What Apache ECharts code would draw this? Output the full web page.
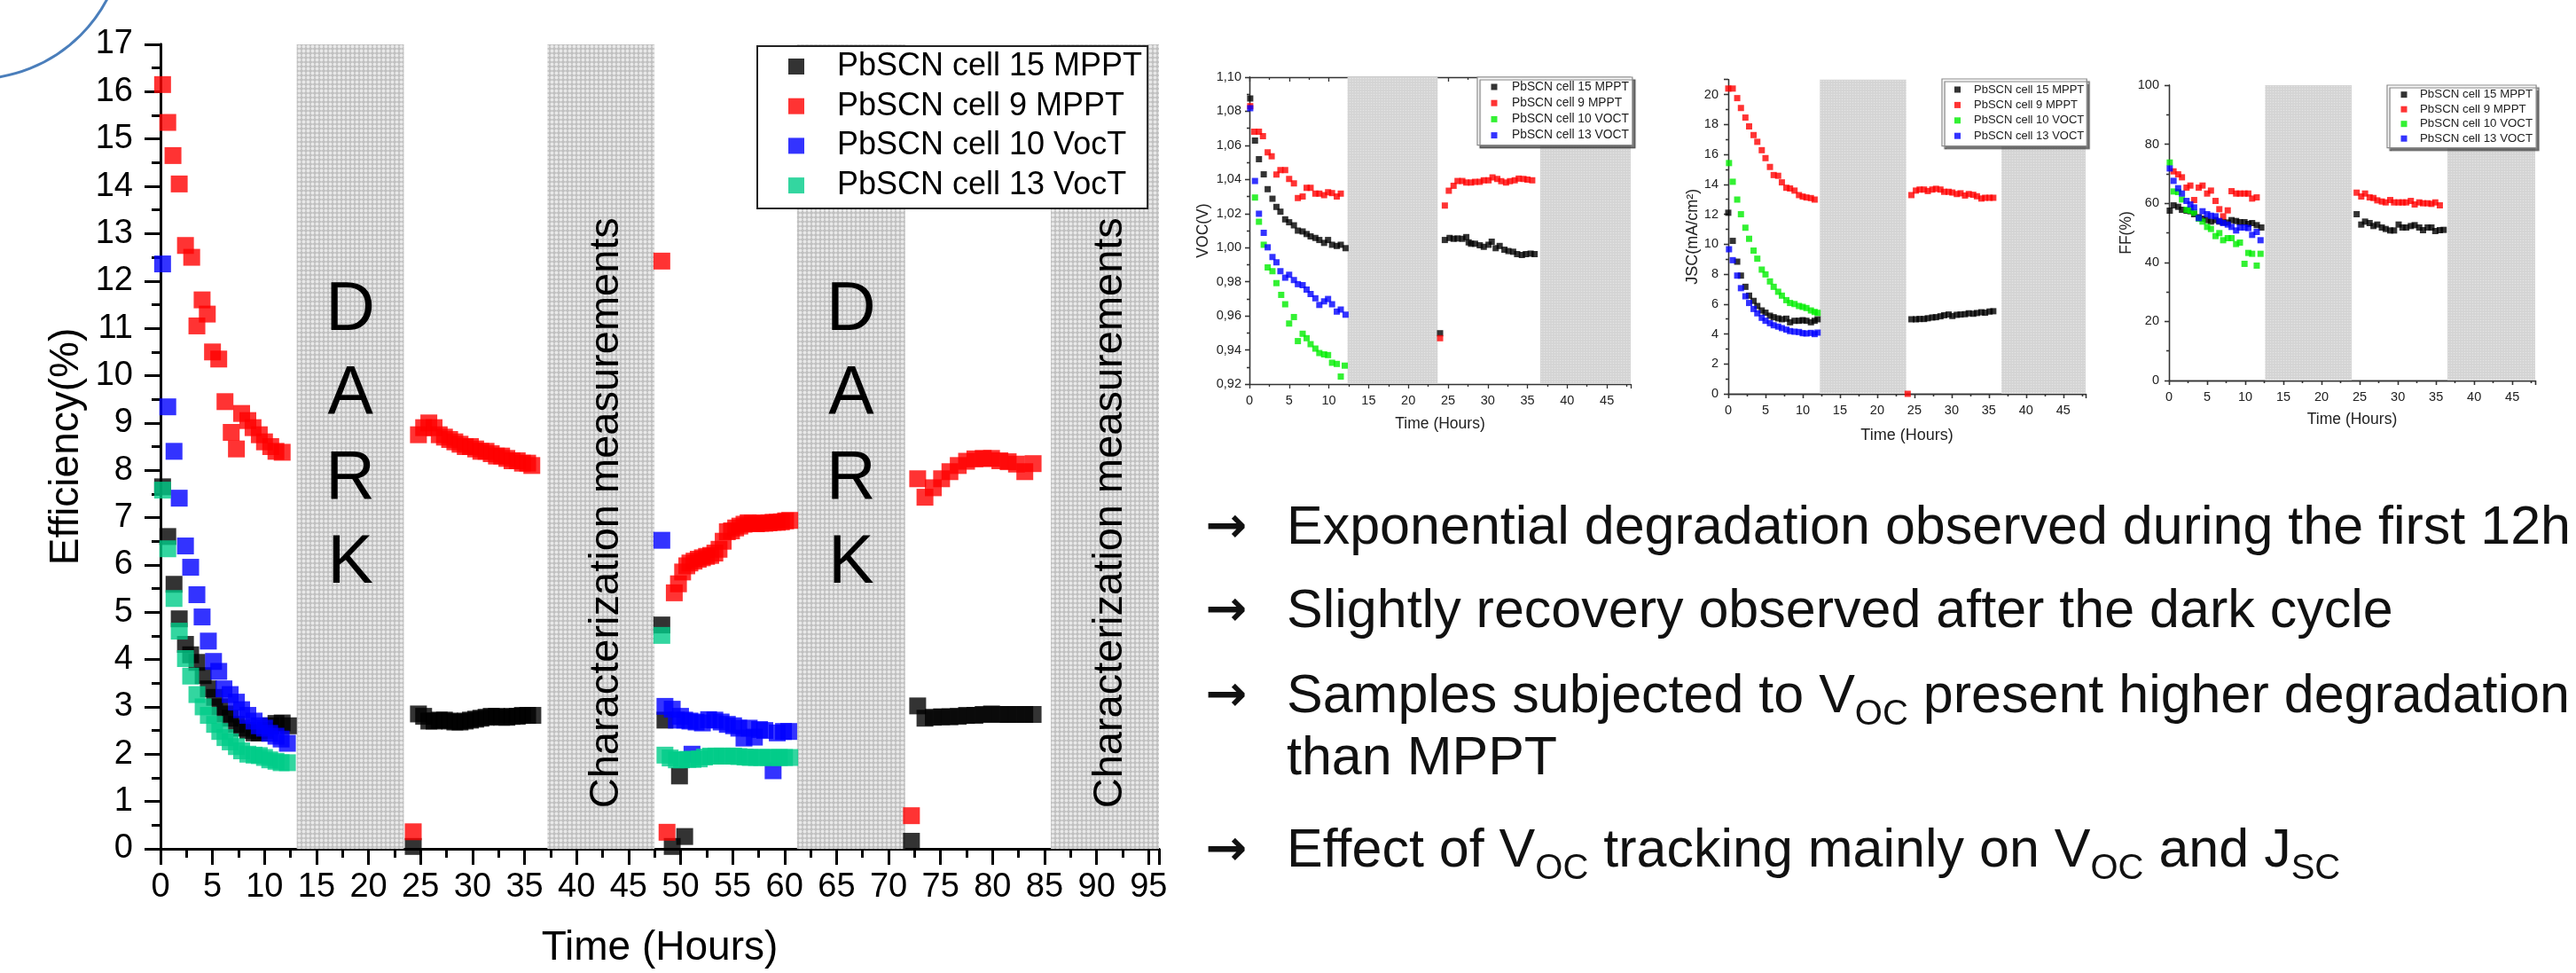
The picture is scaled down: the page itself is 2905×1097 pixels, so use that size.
<!DOCTYPE html>
<html>
<head>
<meta charset="utf-8">
<script src="https://cdn.jsdelivr.net/npm/echarts@6/dist/echarts.min.js"></script>
<style>
html, body { margin: 0; padding: 0; background: #fff; }
#main { width: 2905px; height: 1097px; }
</style>
</head>
<body>
<div id="main"></div>
<script>
// ---- main efficiency chart: [hours, efficiency %] ----
const cell15Eff = [[0.2,7.65],[0.7,6.6],[1.3,5.59],[1.8,4.86],[2.4,4.32],[2.9,4.1],[3.5,3.94],[4.1,3.66],[4.6,3.38],[5.2,3.2],[5.7,3.0],[6.2,2.85],[6.7,2.76],[7.3,2.63],[7.8,2.55],[8.4,2.5],[9.0,2.45],[9.5,2.45],[10.1,2.5],[10.6,2.6],[11.1,2.65],[11.7,2.66],[12.3,2.6],
  [24.3,0.05],[24.8,2.85],[25.3,2.8],[25.8,2.7],[26.3,2.7],[26.8,2.72],[27.3,2.72],[27.8,2.7],[28.3,2.68],[28.8,2.68],[29.3,2.7],[29.8,2.72],[30.3,2.74],[30.8,2.76],[31.3,2.78],[31.8,2.8],[32.3,2.8],[32.8,2.78],[33.3,2.78],[33.8,2.8],[34.3,2.8],[34.8,2.82],[35.3,2.82],[35.8,2.82],
  [48.2,4.73],[48.5,2.72],[49.2,0.05],[49.9,1.54],[50.4,0.26],
  [72.2,0.16],[72.8,3.02],[73.5,2.76],[74.3,2.78],[75.1,2.79],[75.9,2.79],[76.7,2.8],[77.5,2.82],[78.3,2.82],[79.1,2.84],[79.9,2.85],[80.7,2.84],[81.5,2.84],[82.3,2.84],[83.1,2.84],[83.9,2.84]];
const cell9Eff = [[0.2,16.15],[0.7,15.35],[1.2,14.65],[1.8,14.05],[2.4,12.75],[3.0,12.5],[3.5,11.05],[4.0,11.6],[4.5,11.3],[5.0,10.5],[5.6,10.35],[6.2,9.45],[6.8,8.8],[7.3,8.45],[7.8,9.2],[8.4,9.05],[8.9,8.9],[9.5,8.75],[10.0,8.6],[10.6,8.5],[11.1,8.4],[11.7,8.38],
  [24.3,0.36],[24.8,8.75],[25.3,8.9],[25.8,9.0],[26.3,8.9],[26.8,8.75],[27.3,8.7],[27.8,8.65],[28.3,8.6],[28.8,8.55],[29.3,8.5],[29.8,8.5],[30.3,8.45],[30.8,8.4],[31.3,8.4],[31.8,8.35],[32.3,8.3],[32.8,8.3],[33.3,8.25],[33.8,8.2],[34.3,8.2],[34.8,8.15],[35.3,8.15],[35.7,8.1],
  [48.2,12.42],[48.7,0.35],[49.4,5.41],[49.8,5.6],[50.2,5.85],[50.6,5.98],[50.9,6.04],[51.3,6.08],[51.7,6.12],[52.1,6.15],[52.5,6.18],[52.9,6.2],[53.3,6.25],[53.7,6.33],[54.1,6.5],[54.5,6.7],[54.9,6.72],[55.3,6.78],[55.7,6.82],[56.1,6.86],[56.5,6.89],[56.9,6.88],[57.3,6.87],[57.7,6.88],[58.1,6.88],[58.5,6.89],[58.9,6.9],[59.3,6.9],[59.7,6.91],[60.1,6.93],[60.5,6.94],
  [72.2,0.7],[72.8,7.82],[73.5,7.43],[74.3,7.63],[75.1,7.82],[75.9,7.97],[76.7,8.1],[77.5,8.19],[78.3,8.24],[79.1,8.25],[79.9,8.25],[80.7,8.2],[81.5,8.18],[82.3,8.13],[83.1,7.97],[83.9,8.14]];
const cell10Eff = [[0.2,12.36],[0.7,9.34],[1.3,8.4],[1.8,7.41],[2.4,6.4],[2.9,5.95],[3.5,5.37],[4.0,4.9],[4.6,4.39],[5.1,3.96],[5.6,3.75],[6.1,3.38],[6.7,3.26],[7.3,3.1],[7.8,2.94],[8.4,2.82],[9.0,2.7],[9.5,2.6],[10.0,2.55],[10.5,2.44],[11.1,2.38],[11.6,2.32],[12.2,2.23],
  [48.2,6.52],[48.5,3.01],[49.2,2.95],[49.6,2.72],[50.0,2.8],[50.4,2.72],[50.9,2.7],[51.1,2.0],[51.5,2.68],[52.1,2.66],[52.7,2.73],[53.3,2.72],[53.9,2.68],[54.5,2.63],[55.1,2.6],[55.6,2.55],[56.1,2.34],[56.6,2.55],[57.1,2.36],[57.6,2.52],[58.1,2.5],[58.9,1.65],[59.3,2.45],[59.9,2.48],[60.4,2.48]];
const cell13Eff = [[0.2,7.58],[0.7,6.34],[1.3,5.29],[1.8,4.6],[2.4,4.02],[2.9,3.65],[3.5,3.26],[4.1,3.0],[4.6,2.82],[5.2,2.63],[5.7,2.48],[6.2,2.35],[6.7,2.26],[7.3,2.16],[7.8,2.07],[8.4,2.0],[9.0,1.98],[9.5,1.97],[10.0,1.93],[10.5,1.88],[11.1,1.85],[11.6,1.82],[12.2,1.82],
  [48.2,4.51],[48.5,1.98],[49.0,1.92],[49.6,1.88],[50.1,1.88],[50.7,1.89],[51.2,1.89],[51.8,1.9],[52.3,1.94],[52.9,1.96],[53.4,1.96],[54.0,1.96],[54.5,1.96],[55.1,1.96],[55.6,1.95],[56.2,1.94],[56.7,1.93],[57.3,1.93],[57.8,1.93],[58.4,1.93],[58.9,1.93],[59.5,1.93],[60.0,1.93],[60.5,1.93]];
const darkZones = [[13.1, 23.4], [61.2, 71.6]];
const charZones = [[37.2, 47.5], [85.6, 96]];

// ---- small charts: VOC (V) ----
const vocCell15 = [[0.1,1.0875],[0.7,1.0628],[1.2,1.0519],[1.8,1.043],[2.3,1.0343],[2.9,1.0287],[3.4,1.0239],[3.9,1.0211],[4.5,1.0166],[5.0,1.0149],[5.6,1.0131],[6.1,1.01],[6.7,1.0095],[7.2,1.008],[7.7,1.0066],[8.3,1.0057],[8.8,1.0045],[9.4,1.0028],[9.9,1.0045],[10.4,1.0017],[11.0,1.001],[11.5,1.0017],[12.1,0.9997],
  [24.0,0.9498],[24.6,1.0045],[25.2,1.0057],[25.7,1.0052],[26.2,1.0054],[26.8,1.0052],[27.3,1.0062],[27.6,1.0031],[27.9,1.0023],[28.4,1.0023],[29.0,1.0014],[29.5,1.0005],[30.1,1.0017],[30.5,1.0035],[31.0,0.9997],[31.5,1.001],[32.1,0.9988],[32.6,0.998],[33.2,0.9976],[33.7,0.9962],[34.3,0.9957],[34.8,0.9962],[35.4,0.9965],[35.9,0.9962]];
const vocCell9 = [[0.1,1.083],[0.6,1.068],[1.2,1.068],[1.7,1.0654],[2.3,1.0559],[2.8,1.0536],[3.4,1.0429],[3.9,1.0455],[4.5,1.0455],[5.0,1.0403],[5.6,1.0377],[6.1,1.0291],[6.7,1.03],[7.2,1.0351],[7.7,1.0351],[8.3,1.0317],[8.8,1.0317],[9.4,1.0308],[9.9,1.0325],[10.4,1.032],[11.0,1.03],[11.5,1.0317],
  [24.0,0.9469],[24.6,1.0247],[25.1,1.0334],[25.7,1.0363],[26.2,1.0391],[26.8,1.0391],[27.3,1.0382],[27.9,1.0382],[28.4,1.0386],[29.0,1.0386],[29.5,1.0395],[30.1,1.0395],[30.6,1.0412],[31.2,1.0403],[31.7,1.039],[32.3,1.0382],[32.8,1.039],[33.4,1.0395],[33.9,1.0405],[34.5,1.0403],[35.0,1.0399],[35.6,1.0395]];
const vocCell10 = [[0.7,1.0294],[1.2,1.0152],[1.8,1.0017],[2.3,0.9884],[2.9,0.9862],[3.4,0.9792],[4.0,0.9723],[4.5,0.9668],[5.0,0.9555],[5.6,0.9593],[6.1,0.9452],[6.7,0.9495],[7.2,0.9469],[7.7,0.9434],[8.3,0.9408],[8.8,0.9382],[9.4,0.9374],[9.9,0.937],[10.4,0.9325],[11.0,0.9318],[11.5,0.9244],[12.0,0.9308]];
const vocCell13 = [[0.1,1.0818],[0.7,1.0391],[1.2,1.0199],[1.8,1.0087],[2.3,1.0002],[2.9,0.9945],[3.4,0.9914],[3.9,0.9862],[4.5,0.9824],[5.0,0.9841],[5.6,0.981],[6.1,0.9786],[6.7,0.978],[7.2,0.9754],[7.7,0.9728],[8.3,0.9703],[8.8,0.9664],[9.4,0.9685],[9.9,0.9699],[10.4,0.9668],[11.0,0.9625],[11.5,0.9637],[12.1,0.9607]];
const vocZones = [[12.35, 23.7], [36.6, 48]];

// ---- small charts: JSC (mA/cm2) ----
const jscCell15 = [[0,12.1],[0.6,10.22],[1.2,8.83],[1.7,7.9],[2.3,7.15],[2.8,6.56],[3.4,6.21],[3.9,5.87],[4.5,5.57],[5.0,5.42],[5.6,5.22],[6.1,5.12],[6.7,5.04],[7.2,4.98],[7.8,5.02],[8.3,4.78],[8.9,4.88],[9.5,4.88],[10.0,4.92],[10.5,4.88],[11.1,4.78],[11.6,4.88],[12.0,4.98],
  [24.6,4.98],[25.2,4.98],[25.7,5.0],[26.3,5.0],[26.8,5.05],[27.4,5.1],[27.9,5.12],[28.5,5.18],[29.0,5.25],[29.6,5.3],[30.1,5.2],[30.7,5.28],[31.2,5.3],[31.8,5.32],[32.3,5.38],[32.9,5.35],[33.4,5.4],[34.0,5.45],[34.5,5.42],[35.1,5.5],[35.6,5.52]];
const jscCell9 = [[0,20.4],[0.6,20.4],[1.2,19.76],[1.7,19.1],[2.3,18.46],[2.8,17.87],[3.4,17.29],[3.9,16.84],[4.5,16.28],[5.0,15.75],[5.6,15.16],[6.1,14.62],[6.7,14.57],[7.2,14.13],[7.8,13.77],[8.3,13.72],[8.9,13.58],[9.5,13.28],[10.0,13.18],[10.5,13.12],[11.1,13.08],[11.6,12.98],
  [24.1,0],[24.6,13.28],[25.2,13.58],[25.7,13.65],[26.3,13.65],[26.8,13.55],[27.4,13.65],[27.9,13.7],[28.5,13.65],[29.0,13.5],[29.6,13.5],[30.1,13.45],[30.7,13.35],[31.2,13.4],[31.8,13.25],[32.3,13.35],[32.9,13.3],[33.4,13.2],[34.0,13.05],[34.5,13.1],[35.1,13.1],[35.6,13.1]];
const jscCell10 = [[0.1,15.42],[0.6,14.17],[1.2,12.98],[1.7,12.0],[2.3,11.1],[2.8,10.36],[3.4,9.57],[3.9,9.03],[4.5,8.3],[5.0,7.98],[5.6,7.51],[6.1,7.15],[6.7,6.82],[7.2,6.56],[7.8,6.26],[8.3,6.07],[8.9,6.0],[9.5,5.87],[10.0,5.81],[10.5,5.73],[11.1,5.57],[11.6,5.47],[12.0,5.41]];
const jscCell13 = [[0.1,9.66],[0.6,8.93],[1.2,7.9],[1.7,7.06],[2.3,6.52],[2.8,6.07],[3.4,5.67],[3.9,5.38],[4.5,5.08],[5.0,4.88],[5.6,4.72],[6.1,4.58],[6.7,4.49],[7.2,4.39],[7.8,4.29],[8.3,4.19],[8.9,4.15],[9.5,4.13],[10.0,4.05],[10.5,4.03],[11.1,4.07],[11.6,3.99],[12.0,4.09]];
const jscZones = [[12.3, 23.9], [36.7, 48]];

// ---- small charts: FF (%) ----
const ffCell15 = [[0.1,57.5],[0.6,59.3],[1.2,58.8],[1.7,57.8],[2.3,57.5],[2.8,57.3],[3.3,56.3],[3.9,55.3],[4.4,54.8],[5.0,54.3],[5.5,53.8],[6.1,54.3],[6.6,53.8],[7.1,53.6],[7.7,53.5],[8.2,54.3],[8.8,54.0],[9.3,53.6],[9.9,53.6],[10.4,53.0],[10.9,53.3],[11.5,52.6],[12.1,51.8],
  [24.6,56.3],[25.2,52.8],[25.7,53.8],[26.3,53.3],[26.8,52.3],[27.3,52.8],[27.9,51.8],[28.4,51.3],[29.0,50.8],[29.5,50.8],[30.1,52.8],[30.6,51.8],[31.1,51.8],[31.7,52.3],[32.2,52.6],[32.8,51.8],[33.3,50.9],[33.9,51.8],[34.4,51.8],[34.9,50.6],[35.5,50.9],[36.0,51.0]];
const ffCell9 = [[0.6,70.8],[1.2,69.8],[1.7,68.8],[2.3,65.3],[2.8,66.0],[3.3,61.1],[3.9,65.3],[4.4,66.0],[5.0,63.3],[5.5,64.3],[6.1,60.8],[6.6,58.0],[7.1,55.6],[7.7,57.6],[8.2,64.1],[8.8,63.3],[9.3,63.3],[9.9,63.3],[10.4,63.3],[10.9,61.6],[11.5,62.0],
  [24.6,63.6],[25.2,62.3],[25.7,63.3],[26.3,62.0],[26.8,61.8],[27.3,61.0],[27.9,60.6],[28.4,60.3],[29.0,61.1],[29.5,60.3],[30.1,60.3],[30.6,60.3],[31.1,60.3],[31.7,60.8],[32.2,59.6],[32.8,60.3],[33.3,60.0],[33.9,60.0],[34.4,59.8],[34.9,60.3],[35.5,59.3]];
const ffCell10 = [[0.1,73.8],[0.6,64.0],[1.2,63.8],[1.7,61.3],[2.3,57.8],[2.8,57.5],[3.3,56.8],[3.9,54.8],[4.4,53.8],[5.0,52.0],[5.5,51.3],[6.1,48.9],[6.6,49.9],[7.1,47.5],[7.7,48.2],[8.2,48.2],[8.8,46.2],[9.3,46.7],[9.9,39.5],[10.4,43.2],[10.9,42.9],[11.5,38.9],[12.0,42.9]];
const ffCell13 = [[0.1,71.8],[0.6,67.6],[1.2,65.1],[1.7,63.3],[2.3,60.8],[2.8,59.6],[3.3,58.6],[3.9,55.0],[4.4,57.3],[5.0,56.3],[5.5,55.8],[6.1,55.6],[6.6,54.0],[7.1,53.3],[7.7,52.8],[8.2,52.0],[8.8,50.8],[9.3,51.8],[9.9,51.8],[10.4,51.6],[10.9,49.3],[11.5,50.3],[12.0,47.5]];
const ffZones = [[12.6, 23.95], [36.5, 48]];

const mainNames = ['PbSCN cell 15 MPPT', 'PbSCN cell 9 MPPT', 'PbSCN cell 10 VocT', 'PbSCN cell 13 VocT'];
const smallNames = ['PbSCN cell 15 MPPT', 'PbSCN cell 9 MPPT', 'PbSCN cell 10 VOCT', 'PbSCN cell 13 VOCT'];

const FONT = 'Liberation Sans';

function dotPattern(bg, dot, step, r) {
  const c = document.createElement('canvas');
  c.width = c.height = step;
  const ctx = c.getContext('2d');
  ctx.fillStyle = bg;
  ctx.fillRect(0, 0, step, step);
  ctx.fillStyle = dot;
  ctx.beginPath();
  ctx.arc(step / 2, step / 2, r, 0, Math.PI * 2);
  ctx.fill();
  return { image: c, repeat: 'repeat' };
}
const bigShade = dotPattern('#c0c0c0', '#e8e8e8', 5, 1.9);
const smallShade = dotPattern('#d4d4d4', '#e4e4e4', 3, 0.8);

function axesFor(gi, s) {
  const line = { lineStyle: { color: s.color, width: s.lw } };
  const common = {
    gridIndex: gi, type: 'value', splitLine: { show: false }, axisLine: line,
    axisTick: { length: s.major, lineStyle: { color: s.color, width: s.lw } },
    minorTick: { show: true, splitNumber: 2, length: s.minor, lineStyle: { color: s.color, width: s.lw } }
  };
  const xs = { ...common, min: 0, max: s.xMax, interval: 5 };
  const ys = { ...common, min: s.yMin, max: s.yMax, interval: s.yStep };
  const x = [
    { ...xs, position: 'bottom', name: 'Time (Hours)', nameLocation: 'middle', nameGap: s.xNameGap,
      nameTextStyle: { fontFamily: FONT, fontSize: s.nameSize, color: s.text },
      axisLabel: { fontFamily: FONT, fontSize: s.labelSize, color: s.text, margin: s.xMargin,
        formatter: v => (Math.abs(v % 5) < 1e-6 ? String(v) : '') } },
    { ...xs, position: 'top', axisTick: { ...xs.axisTick, inside: true }, axisLabel: { show: false } }
  ];
  const y = [
    { ...ys, position: 'left', name: s.yName, nameLocation: 'middle', nameGap: s.yNameGap,
      nameTextStyle: { fontFamily: FONT, fontSize: s.nameSize, color: s.text },
      axisLabel: { fontFamily: FONT, fontSize: s.labelSize, color: s.text, margin: s.yMargin, formatter: s.yFmt } },
    { ...ys, position: 'right', axisTick: { ...ys.axisTick, inside: true }, axisLabel: { show: false } }
  ];
  return { x, y };
}

const stepFmt = step => v => {
  const k = v / step;
  return Math.abs(k - Math.round(k)) < 1e-6 ? String(Math.round(v)) : '';
};

const mainAx = axesFor(0, { color: '#000', lw: 3, major: 18, minor: 10, text: '#000', labelSize: 38, nameSize: 46,
  xMax: 96, yMin: 0, yMax: 17, yStep: 1, yName: 'Efficiency(%)', xNameGap: 89, yNameGap: 83, xMargin: 25, yMargin: 31,
  yFmt: stepFmt(1) });
const smallStyle = { color: '#333', lw: 1.3, major: 5, minor: 3, text: '#222', labelSize: 14.5, xMax: 48, xMargin: 11 };
const vocAx = axesFor(1, { ...smallStyle, nameSize: 17.5, yMin: 0.92, yMax: 1.10, yStep: 0.02, yName: 'VOC(V)',
  xNameGap: 36, yNameGap: 43, yMargin: 9, yFmt: v => v.toFixed(2).replace('.', ',') });
const jscAx = axesFor(2, { ...smallStyle, nameSize: 18, yMin: 0, yMax: 21, yStep: 2, yName: 'JSC(mA/cm²)',
  xNameGap: 38, yNameGap: 30, yMargin: 11, yFmt: stepFmt(2) });
const ffAx = axesFor(3, { ...smallStyle, nameSize: 17.5, yMin: 0, yMax: 100, yStep: 20, yName: 'FF(%)',
  xNameGap: 35, yNameGap: 37, yMargin: 11, yFmt: stepFmt(20) });

function scatterSet(gi, names, sets, colors, size) {
  return sets.map((data, i) => ({
    type: 'scatter', name: names[i], data, xAxisIndex: gi * 2, yAxisIndex: gi * 2,
    symbol: 'rect', symbolSize: size, itemStyle: { color: colors[i] }, z: 3, silent: true
  }));
}

function zoneSeries(gi, data, fill, label) {
  return {
    type: 'custom', xAxisIndex: gi * 2, yAxisIndex: gi * 2, data, z: 1, silent: true,
    encode: { x: [0, 1] },
    renderItem(params, api) {
      const cs = params.coordSys;
      const x0 = api.coord([api.value(0), 0])[0];
      const x1 = api.coord([api.value(1), 0])[0];
      const children = [{ type: 'rect', shape: { x: x0, y: cs.y, width: x1 - x0, height: cs.height }, style: { fill } }];
      if (label) children.push(label(x0, x1, api));
      return { type: 'group', children };
    }
  };
}

const darkLabel = (x0, x1, api) => ({
  type: 'text', x: (x0 + x1) / 2, y: api.coord([0, 8.7])[1],
  style: { text: 'D\nA\nR\nK', fontFamily: FONT, fontSize: 77, lineHeight: 95, fill: '#000', align: 'center', verticalAlign: 'middle' }
});
const charLabel = (x0, x1, api) => ({
  type: 'text', x: (x0 + x1) / 2 + 6, y: api.coord([0, 7.1])[1], rotation: Math.PI / 2,
  style: { text: 'Characterization measurements', fontFamily: FONT, fontSize: 47, fill: '#000', align: 'center', verticalAlign: 'middle' }
});

function smallLegend(left, top, pad, gap, textGap, fontSize) {
  return {
    orient: 'vertical', left, top, data: smallNames, icon: 'rect', itemWidth: 7, itemHeight: 7,
    itemGap: gap, padding: pad, selectedMode: false,
    backgroundColor: '#fff', borderColor: '#8a8a8a', borderWidth: 1.2,
    shadowColor: 'rgba(60,60,60,0.7)', shadowOffsetX: 3, shadowOffsetY: 3, shadowBlur: 1,
    textStyle: { fontFamily: FONT, fontSize, lineHeight: 13, color: '#222', padding: [0, 0, 0, textGap] }
  };
}

const mainColors = ['#000000', '#ff0000', '#0000ff', '#00cc88'];
const smallColors = ['#000000', '#ff0000', '#00ee00', '#0000ff'];

const line = (y, text) => ({
  type: 'text', x: 1451, y, silent: true,
  style: {
    text, fontFamily: FONT, fontSize: 61, lineHeight: 80, fill: '#111', align: 'left', verticalAlign: 'middle',
    rich: { sub: { fontFamily: FONT, fontSize: 40, lineHeight: 40, padding: [40, 0, 0, 0], fill: '#111' } }
  }
});
const arrow = y => ({
  type: 'text', x: 1383, y, silent: true,
  style: { text: '→', fontFamily: 'DejaVu Sans', fontSize: 56, fontWeight: 'bold', fill: '#111', align: 'center', verticalAlign: 'middle' }
});

const chart = echarts.init(document.getElementById('main'));
chart.setOption({
  animation: false,
  backgroundColor: '#fff',
  grid: [
    { left: 181, top: 50, width: 1126, height: 907 },
    { left: 1409, top: 87, width: 430, height: 346 },
    { left: 1949, top: 89.7, width: 403, height: 354.3 },
    { left: 2446, top: 96, width: 413, height: 333 }
  ],
  xAxis: [...mainAx.x, ...vocAx.x, ...jscAx.x, ...ffAx.x],
  yAxis: [...mainAx.y, ...vocAx.y, ...jscAx.y, ...ffAx.y],
  legend: [
    {
      orient: 'vertical', left: 854, top: 52, data: mainNames, icon: 'rect', itemWidth: 18, itemHeight: 18,
      itemGap: 8.7, padding: [5, 6, 8, 35], selectedMode: false,
      backgroundColor: '#fff', borderColor: '#222', borderWidth: 2,
      textStyle: { fontFamily: FONT, fontSize: 36, lineHeight: 36, color: '#000', padding: [0, 0, 0, 32] }
    },
    smallLegend(1666, 87, [4, 4, 4, 15.5], 4.2, 11.5, 13.8),
    smallLegend(2190, 89, [5.5, 3, 5, 14], 4.4, 10, 13),
    smallLegend(2692, 96, [4.2, 4, 4, 15.5], 3.5, 9.5, 13.3)
  ],
  series: [
    zoneSeries(0, darkZones, bigShade, darkLabel),
    zoneSeries(0, charZones, bigShade, charLabel),
    ...scatterSet(0, mainNames, [cell15Eff, cell9Eff, cell10Eff, cell13Eff], mainColors, 19),
    zoneSeries(1, vocZones, smallShade),
    ...scatterSet(1, smallNames, [vocCell15, vocCell9, vocCell10, vocCell13], smallColors, 7),
    zoneSeries(2, jscZones, smallShade),
    ...scatterSet(2, smallNames, [jscCell15, jscCell9, jscCell10, jscCell13], smallColors, 7),
    zoneSeries(3, ffZones, smallShade),
    ...scatterSet(3, smallNames, [ffCell15, ffCell9, ffCell10, ffCell13], smallColors, 7)
  ],
  graphic: [
    { type: 'circle', silent: true, shape: { cx: -28, cy: -79, r: 168 }, style: { fill: 'none', stroke: '#4a7ebb', lineWidth: 3 } },
    arrow(596), line(596, 'Exponential degradation observed during the first 12h'),
    arrow(690), line(690, 'Slightly recovery observed after the dark cycle'),
    arrow(786), line(786, 'Samples subjected to V{sub|OC} present higher degradation'),
    line(856, 'than MPPT'),
    arrow(960), line(960, 'Effect of V{sub|OC} tracking mainly on V{sub|OC} and J{sub|SC}')
  ]
});
</script>
</body>
</html>
